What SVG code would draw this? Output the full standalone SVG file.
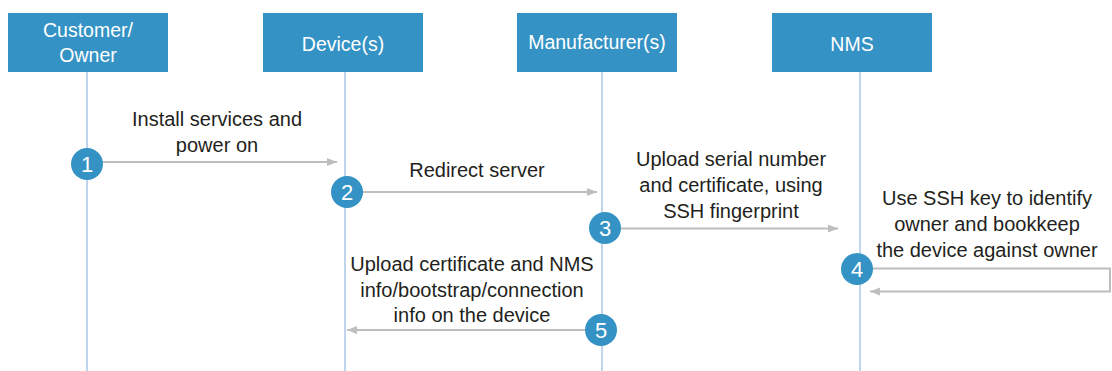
<svg xmlns="http://www.w3.org/2000/svg" width="1112" height="371" viewBox="0 0 1112 371">
<defs>
<style>
.box{fill:#3592c4}
.bt{font-family:"Liberation Sans",Arial,sans-serif;font-size:19.5px;fill:#ffffff;text-anchor:middle}
.life{stroke:#a9c7e6;stroke-width:1.5;fill:none}
.arr{stroke:#bcbec0;stroke-width:2;fill:none}
.lbl{font-family:"Liberation Sans",Arial,sans-serif;font-size:20px;fill:#231f20;text-anchor:middle}
.num{fill:#3592c4}
.nt{font-family:"Liberation Sans",Arial,sans-serif;font-size:22px;fill:#ffffff;text-anchor:middle}
</style>
<marker id="ah" viewBox="0 0 10 10" refX="10" refY="5" markerWidth="10" markerHeight="10" markerUnits="userSpaceOnUse" orient="auto">
<path d="M0,1 L10,5 L0,9 Z" fill="#bcbec0"/>
</marker>
</defs>
<g id="lifelines">
<line class="life" x1="87" y1="72" x2="87" y2="371"/>
<line class="life" x1="345" y1="72" x2="345" y2="371"/>
<line class="life" x1="602" y1="72" x2="602" y2="371"/>
<line class="life" x1="860" y1="72" x2="860" y2="371"/>
</g>
<g id="customer">
<rect class="box" x="8" y="13" width="160" height="59"/>
<text class="bt" x="88" y="37">Customer/</text>
<text class="bt" x="88" y="62">Owner</text>
</g>
<g id="device">
<rect class="box" x="263" y="13" width="160" height="59"/>
<text class="bt" x="343" y="51">Device(s)</text>
</g>
<g id="manufacturer">
<rect class="box" x="517" y="13" width="160" height="59"/>
<text class="bt" x="597" y="49">Manufacturer(s)</text>
</g>
<g id="nms">
<rect class="box" x="772" y="13" width="160" height="59"/>
<text class="bt" x="852" y="51">NMS</text>
</g>
<g id="connectors">
<line class="arr" x1="103" y1="162" x2="337" y2="162" marker-end="url(#ah)"/>
<line class="arr" x1="363" y1="192" x2="597" y2="192" marker-end="url(#ah)"/>
<line class="arr" x1="621" y1="228.5" x2="838" y2="228.5" marker-end="url(#ah)"/>
<polyline class="arr" points="873,268.5 1110,268.5 1110,291.5 870,291.5" marker-end="url(#ah)"/>
<line class="arr" x1="585" y1="330" x2="347" y2="330" marker-end="url(#ah)"/>
</g>
<g id="labels">
<text class="lbl" x="217" y="126">Install services and</text>
<text class="lbl" x="217" y="152">power on</text>
<text class="lbl" x="477" y="177">Redirect server</text>
<text class="lbl" x="731" y="166">Upload serial number</text>
<text class="lbl" x="731" y="192">and certificate, using</text>
<text class="lbl" x="731" y="218">SSH fingerprint</text>
<text class="lbl" x="987" y="205">Use SSH key to identify</text>
<text class="lbl" x="987" y="231">owner and bookkeep</text>
<text class="lbl" x="987" y="257">the device against owner</text>
<text class="lbl" x="472" y="271">Upload certificate and NMS</text>
<text class="lbl" x="472" y="297">info/bootstrap/connection</text>
<text class="lbl" x="472" y="322">info on the device</text>
</g>
<g id="step1"><circle class="num" cx="87" cy="164" r="16"/><text class="nt" x="87" y="172">1</text></g>
<g id="step2"><circle class="num" cx="347" cy="192" r="16"/><text class="nt" x="347" y="200">2</text></g>
<g id="step3"><circle class="num" cx="605" cy="228" r="16"/><text class="nt" x="605" y="236">3</text></g>
<g id="step4"><circle class="num" cx="857" cy="269" r="16"/><text class="nt" x="857" y="277">4</text></g>
<g id="step5"><circle class="num" cx="601" cy="330" r="16"/><text class="nt" x="601" y="338">5</text></g>
</svg>
